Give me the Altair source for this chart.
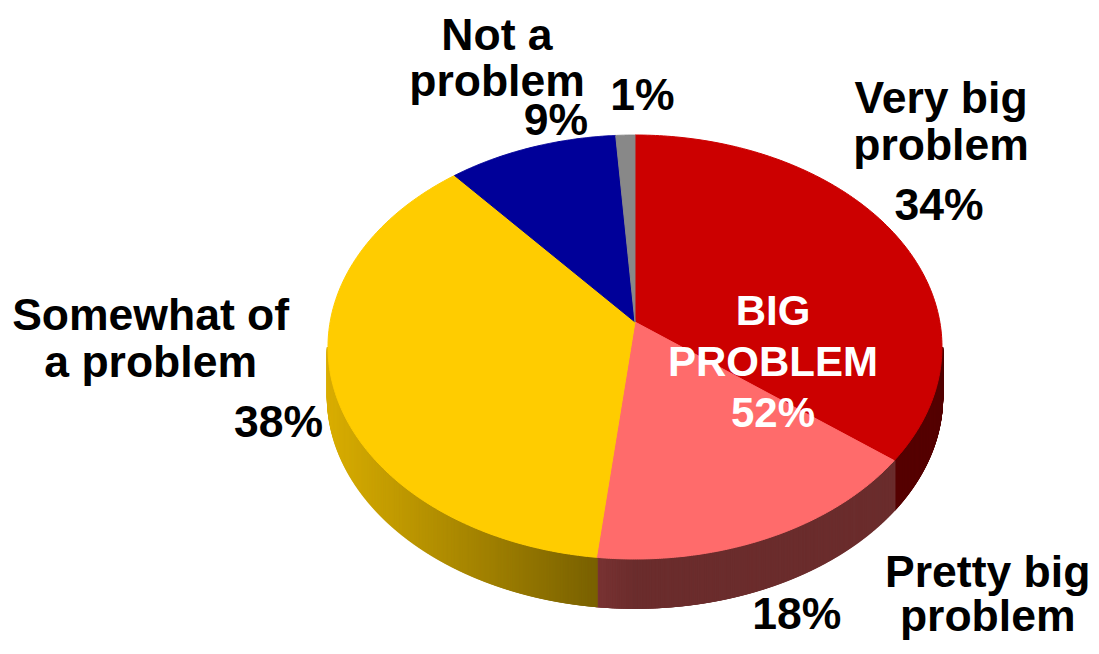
import altair as alt
import pandas as pd

# ---- data ----
categories = ["Very big problem", "Pretty big problem", "Somewhat of a problem", "Not a problem", "Don't know"]
values = [34, 18, 38, 9, 1]
label_lines = ["Very big\nproblem", "Pretty big\nproblem", "Somewhat of\na problem", "Not a\nproblem", ""]
colors = ["#CC0000", "#FF6B6B", "#FFCC00", "#000099", "#888888"]


def hex_rgb(h):
    return int(h[1:3], 16), int(h[3:5], 16), int(h[5:7], 16)


df = pd.DataFrame({
    "idx": list(range(len(categories))),
    "category": categories,
    "value": values,
    "label": label_lines,
    "color": colors,
    "cr": [hex_rgb(c)[0] for c in colors],
    "cg": [hex_rgb(c)[1] for c in colors],
    "cb": [hex_rgb(c)[2] for c in colors],
})

# ---- layout (pie units: x radius = 1, y radius = 1) ----
W, H = 1083, 634
XDOM = [-2.0423, 1.4854]
YDOM = [-1.3915, 1.5991]
APEX_Y = 0.118   # perspective shift of the pie's apex
DEPTH = 0.235    # thickness of the 3D pie
N = 160          # points per wedge outline
NS = 500         # rules per wedge side wall

xs = alt.Scale(domain=XDOM, nice=False, zero=False)
ys = alt.Scale(domain=YDOM, nice=False, zero=False)
FONT = "Liberation Sans"


def base():
    return alt.Chart(df).transform_window(
        cum="sum(value)", sort=[alt.SortField("idx", order="ascending")], frame=[None, 0]
    ).transform_joinaggregate(total="sum(value)").transform_calculate(
        a0="2*PI*(datum.cum - datum.value)/datum.total",
        a1="2*PI*datum.cum/datum.total",
    )


# side wall of the 3D pie (front half only), shaded by angle
side = base().transform_calculate(
    c0="max(datum.a0, PI/2)",
    c1="min(datum.a1, 3*PI/2)",
).transform_filter("datum.c1 > datum.c0").transform_calculate(
    s=f"sequence(0, {NS + 1})"
).transform_flatten(["s"]).transform_calculate(
    t=f"datum.c0 + (datum.c1 - datum.c0) * datum.s / {NS}",
).transform_calculate(
    px="sin(datum.t)",
    py="cos(datum.t)",
    pyb=f"cos(datum.t) - {DEPTH}",
    k="datum.t >= PI ? 0.42 - 0.43*sin(datum.t) : 0.42",
).transform_calculate(
    shade="'rgb(' + round(datum.cr*datum.k) + ',' + round(datum.cg*datum.k) + ',' + round(datum.cb*datum.k) + ')'"
).mark_rule(strokeWidth=2.5).encode(
    x=alt.X("px:Q", scale=xs, axis=None),
    y=alt.Y("py:Q", scale=ys, axis=None),
    y2=alt.Y2("pyb:Q"),
    color=alt.Color("shade:N", scale=None, legend=None),
    detail="category:N",
)

# top face of the pie (elliptical wedges)
top = base().transform_calculate(
    s=f"sequence(-1, {N + 1})"
).transform_flatten(["s"]).transform_calculate(
    t=f"datum.a0 + (datum.a1 - datum.a0) * max(datum.s, 0) / {N}",
).transform_calculate(
    px="datum.s < 0 ? 0 : sin(datum.t)",
    py=f"datum.s < 0 ? {APEX_Y} : cos(datum.t)",
).mark_line(filled=True, interpolate="linear-closed", strokeWidth=1).encode(
    x=alt.X("px:Q", scale=xs, axis=None),
    y=alt.Y("py:Q", scale=ys, axis=None),
    order=alt.Order("s:Q"),
    detail="category:N",
    color=alt.Color("color:N", scale=None, legend=None),
    stroke=alt.Stroke("color:N", scale=None, legend=None),
)


def text_layer(cat, expr, dx, dy, color="black", size=44.5, lh=47):
    return base().transform_filter(
        alt.datum.category == cat
    ).transform_calculate(
        mid="(datum.a0 + datum.a1)/2"
    ).transform_calculate(
        mx="sin(datum.mid)",
        my="cos(datum.mid)",
        txt=expr,
    ).mark_text(
        font=FONT, fontWeight="bold", fontSize=size, lineHeight=lh,
        align="center", baseline="alphabetic", lineBreak="\n",
        dx=dx, dy=dy, color=color,
    ).encode(
        x=alt.X("mx:Q", scale=xs, axis=None),
        y=alt.Y("my:Q", scale=ys, axis=None),
        text="txt:N",
    )


PCT = "datum.value + '%'"
NAME = "datum.label"
big_text = f"BIG\nPROBLEM\n{values[0] + values[1]}%"

texts = [
    text_layer(categories[0], NAME, 37, -132),
    text_layer(categories[0], PCT, 35, -25),
    text_layer(categories[1], NAME, 222, 48, lh=44),
    text_layer(categories[1], PCT, 31, 90),
    text_layer(categories[2], NAME, -187, -70),
    text_layer(categories[2], PCT, -59, 37),
    text_layer(categories[3], NAME, -34, -98, lh=46),
    text_layer(categories[3], PCT, 25, -13),
    text_layer(categories[4], PCT, 17, -25),
    text_layer(categories[0], "'" + big_text.replace("\n", "\\n") + "'", -131, 80,
               color="white", size=42, lh=51),
]

chart = alt.layer(side, top, *texts).properties(
    width=W, height=H, padding=0, autosize=alt.AutoSizeParams(type="none")
).configure_view(stroke=None)

chart.save("out.html", embed_options={"renderer": "svg", "actions": False})
